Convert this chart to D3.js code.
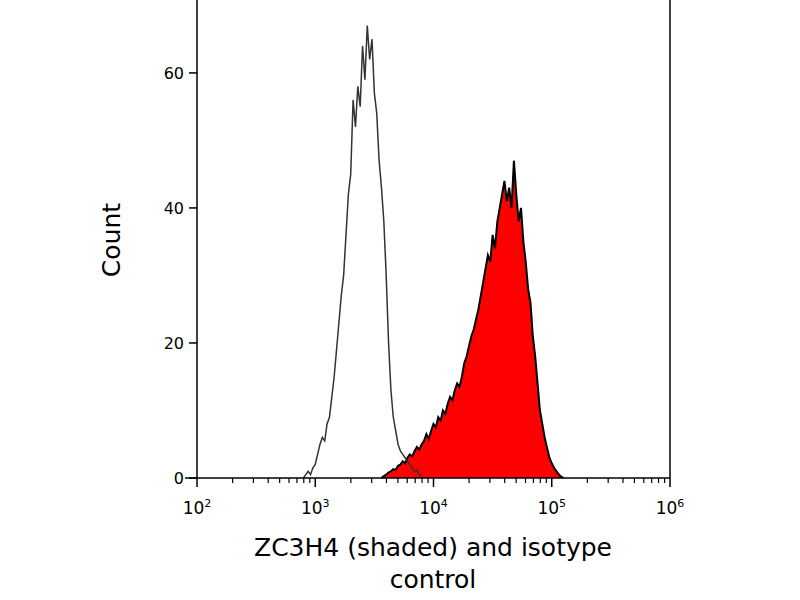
<!DOCTYPE html>
<html><head><meta charset="utf-8">
<script src="https://cdn.jsdelivr.net/npm/d3@7"></script>
<style>body{margin:0;background:#fff}text{font-family:"DejaVu Sans",sans-serif}</style>
</head><body><div id="chart"></div>
<script>
// log10 fluorescence, count
const isoLog = [2.90,2.92,2.94,2.96,2.98,3.00,3.02,3.04,3.06,3.08,3.10,3.12,3.14,3.16,3.18,3.20,3.22,3.24,3.26,3.28,3.30,3.32,3.34,3.36,3.38,3.40,3.42,3.44,3.46,3.48,3.50,3.52,3.54,3.56,3.58,3.60,3.62,3.64,3.66,3.68,3.70,3.72,3.74,3.76,3.78,3.80,3.82,3.84,3.86,3.88,3.90];
const isoCount = [0,0.5,1,0.5,1.5,2,3.5,5,6,5.5,8,9,12,15,19,23,27,30,36,42,45,56,52,58,55,64,59,67,62,65,57,54,47,43,38,30,20,13,9,7,5,4,3.5,3,2.5,2,1.5,1,1.2,0.5,0.3];
const zcLog = [3.56,3.58,3.60,3.62,3.64,3.66,3.68,3.70,3.72,3.74,3.76,3.78,3.80,3.82,3.84,3.86,3.88,3.90,3.92,3.94,3.96,3.98,4.00,4.02,4.04,4.06,4.08,4.10,4.12,4.14,4.16,4.18,4.20,4.22,4.24,4.26,4.28,4.30,4.32,4.34,4.36,4.38,4.40,4.42,4.44,4.46,4.48,4.50,4.52,4.54,4.56,4.58,4.60,4.62,4.64,4.66,4.68,4.70,4.72,4.74,4.76,4.78,4.80,4.82,4.84,4.86,4.88,4.90,4.92,4.94,4.96,4.98,5.00,5.02,5.04,5.06,5.08,5.10];
const zcCount = [0,0.3,0.5,0.8,1,1.3,1.2,1.8,2,2.5,2.2,3,3.5,3.2,4,4.6,4.2,5,5.5,6.5,5.8,7,8,7.5,9,8.5,10,9.5,11,12,11.5,13,14,13.5,15,17,18,19.5,21,22,23.5,25,27,29,31,33,32,36,34,38,40,42,44,41,43,40,47,42,38,40,35,32,28,26,21,18,14,10,8,6,4.5,3,2.2,1.5,1,0.5,0.2,0];
const yTicks = [0,20,40,60];
const xDecades = [2,3,4,5,6];

const margin = {left: 197, top: 0};
const width = 473, height = 478;

const svg = d3.select("#chart").append("svg").attr("width", 800).attr("height", 600);
const g = svg.append("g").attr("transform", "translate(" + margin.left + "," + margin.top + ")");

const x = d3.scaleLog().domain([1e2, 1e6]).range([0, width]);
const y = d3.scaleLinear().domain([0, 70.8]).range([height, 0]);

const iso = isoLog.map((l, i) => [Math.pow(10, l), isoCount[i]]);
const zc = zcLog.map((l, i) => [Math.pow(10, l), zcCount[i]]);

// shaded
g.append("path").datum(zc)
    .attr("d", d3.area().x(d => x(d[0])).y0(y(0)).y1(d => y(d[1])))
    .attr("fill", "#ff0000");
g.append("path").datum(zc)
    .attr("d", d3.line().x(d => x(d[0])).y(d => y(d[1])))
    .attr("fill", "none").attr("stroke", "#000").attr("stroke-width", 2);
// isotype
g.append("path").datum(iso)
    .attr("d", d3.line().x(d => x(d[0])).y(d => y(d[1])))
    .attr("fill", "none").attr("stroke", "#333").attr("stroke-width", 1.5);

// frame lines
g.append("line").attr("x1", -12).attr("x2", width).attr("y1", height).attr("y2", height).attr("stroke", "#000").attr("stroke-width", 1.5);
g.append("line").attr("x1", 0).attr("x2", 0).attr("y1", 0).attr("y2", height).attr("stroke", "#000").attr("stroke-width", 1.5);
g.append("line").attr("x1", width).attr("x2", width).attr("y1", 0).attr("y2", height).attr("stroke", "#000").attr("stroke-width", 1.5);

// x ticks
const minor = [];
for (let d = 2; d < 6; d++) for (let m = 2; m < 10; m++) minor.push(m * Math.pow(10, d));
g.selectAll(".mx").data(minor).enter().append("line")
    .attr("x1", d => x(d)).attr("x2", d => x(d)).attr("y1", height).attr("y2", height + 5)
    .attr("stroke", "#000").attr("stroke-width", 1.2);
g.selectAll(".Mx").data(xDecades).enter().append("line")
    .attr("x1", d => x(Math.pow(10, d))).attr("x2", d => x(Math.pow(10, d))).attr("y1", height).attr("y2", height + 9)
    .attr("stroke", "#000").attr("stroke-width", 1.5);
const xl = g.selectAll(".xl").data(xDecades).enter().append("text")
    .attr("x", d => x(Math.pow(10, d))).attr("y", height + 36)
    .attr("text-anchor", "middle").attr("font-size", 17);
xl.append("tspan").text("10");
xl.append("tspan").attr("dy", -7).attr("font-size", 11).text(d => d);

// y ticks
g.selectAll(".yt").data(yTicks).enter().append("line")
    .attr("x1", -8).attr("x2", 0).attr("y1", d => y(d)).attr("y2", d => y(d))
    .attr("stroke", "#000").attr("stroke-width", 1.5);
g.selectAll(".yl").data(yTicks).enter().append("text")
    .attr("x", -13).attr("y", d => y(d) + 6).attr("text-anchor", "end")
    .attr("font-size", 16).text(d => d);

// labels
svg.append("text").attr("transform", "translate(120,240) rotate(-90)")
    .attr("text-anchor", "middle").attr("font-size", 25).text("Count");
svg.append("text").attr("x", 433).attr("y", 556).attr("text-anchor", "middle")
    .attr("font-size", 25).text("ZC3H4 (shaded) and isotype");
svg.append("text").attr("x", 433).attr("y", 588).attr("text-anchor", "middle")
    .attr("font-size", 25).text("control");
</script></body></html>
